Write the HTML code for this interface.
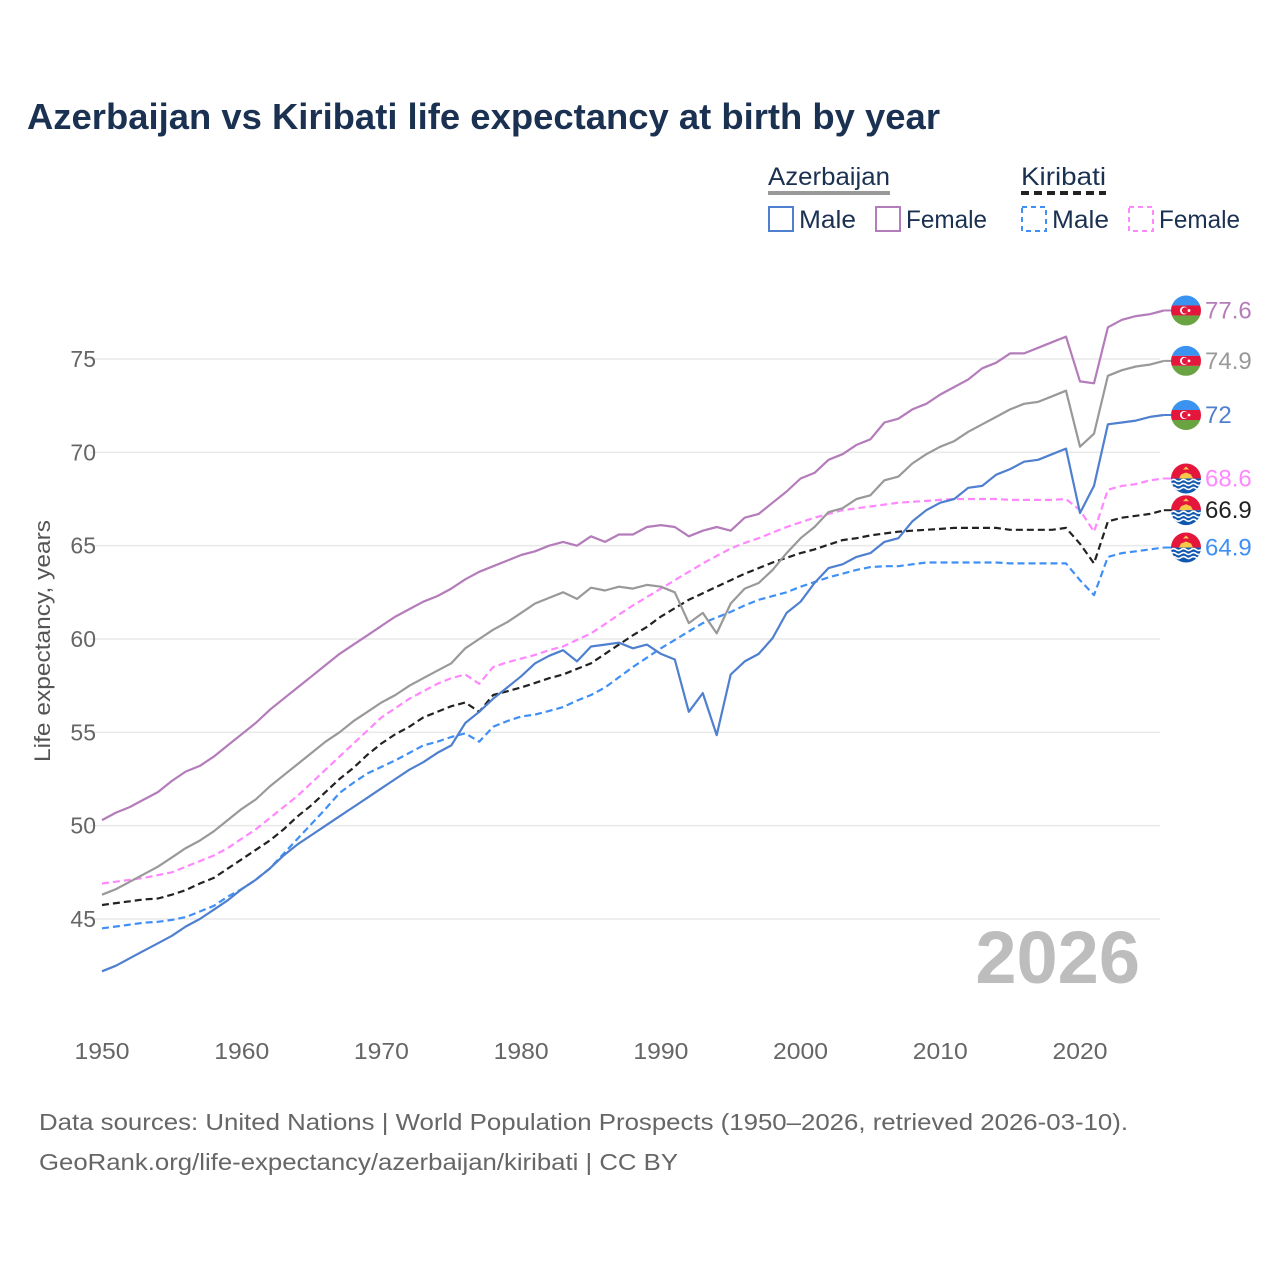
<!DOCTYPE html>
<html><head><meta charset="utf-8"><style>
html,body{margin:0;padding:0;background:#fff;}
svg{display:block;font-family:"Liberation Sans",sans-serif;}
</style></head><body>
<svg id="chart" width="1280" height="1280" viewBox="0 0 1280 1280" xmlns="http://www.w3.org/2000/svg">
<rect width="1280" height="1280" fill="#fff"/>
<text x="27" y="129" font-size="36" font-weight="bold" fill="#1b3152" textLength="913" lengthAdjust="spacingAndGlyphs">Azerbaijan vs Kiribati life expectancy at birth by year</text>
<g font-size="25" fill="#1b3152">
  <text x="768" y="185" textLength="122" lengthAdjust="spacingAndGlyphs">Azerbaijan</text>
  <line x1="768" y1="193" x2="890" y2="193" stroke="#999" stroke-width="4"/>
  <text x="1021" y="185" textLength="85" lengthAdjust="spacingAndGlyphs">Kiribati</text>
  <line x1="1021" y1="193" x2="1106" y2="193" stroke="#222" stroke-width="4" stroke-dasharray="8,5"/>
  <g><rect x="769" y="207" width="24" height="24" fill="none" stroke="#4f7fcf" stroke-width="2"/><text x="799" y="228" textLength="57" lengthAdjust="spacingAndGlyphs">Male</text></g>
  <g><rect x="876" y="207" width="24" height="24" fill="none" stroke="#b47cba" stroke-width="2"/><text x="906" y="228" textLength="81" lengthAdjust="spacingAndGlyphs">Female</text></g>
  <g><rect x="1022" y="207" width="24" height="24" fill="none" stroke="#3f8ff5" stroke-width="2" stroke-dasharray="5,4"/><text x="1052" y="228" textLength="57" lengthAdjust="spacingAndGlyphs">Male</text></g>
  <g><rect x="1129" y="207" width="24" height="24" fill="none" stroke="#ff88ff" stroke-width="2" stroke-dasharray="5,4"/><text x="1159" y="228" textLength="81" lengthAdjust="spacingAndGlyphs">Female</text></g>
</g>
<g id="grid"></g>
<g id="xticks" font-size="23" fill="#666" text-anchor="middle"></g>
<g id="yticks" font-size="23" fill="#666" text-anchor="end"></g>
<text transform="translate(50,641) rotate(-90)" font-size="22" fill="#555" text-anchor="middle" textLength="242" lengthAdjust="spacingAndGlyphs">Life expectancy, years</text>
<text x="1140" y="983" font-size="74" font-weight="bold" fill="#bdbdbd" text-anchor="end">2026</text>
<g id="series"></g>
<g id="endlabels" font-size="24"></g>
<text x="39" y="1130" font-size="23" fill="#666" textLength="1089" lengthAdjust="spacingAndGlyphs">Data sources: United Nations | World Population Prospects (1950–2026, retrieved 2026-03-10).</text>
<text x="39" y="1170" font-size="23" fill="#666" textLength="639" lengthAdjust="spacingAndGlyphs">GeoRank.org/life-expectancy/azerbaijan/kiribati | CC BY</text>
</svg>
<script>
const years = []; for (let y = 1950; y <= 2026; y++) years.push(y);
const xTicks = [1950,1960,1970,1980,1990,2000,2010,2020];
const yTicks = [45,50,55,60,65,70,75];
const azFemale = [50.3,50.7,51.0,51.4,51.8,52.4,52.9,53.2,53.7,54.3,
54.9,55.5,56.2,56.8,57.4,58.0,58.6,59.2,59.7,60.2,
60.7,61.2,61.6,62.0,62.3,62.7,63.2,63.6,63.9,64.2,
64.5,64.7,65.0,65.2,65.0,65.5,65.2,65.6,65.6,66.0,
66.1,66.0,65.5,65.8,66.0,65.8,66.5,66.7,67.3,67.9,
68.6,68.9,69.6,69.9,70.4,70.7,71.6,71.8,72.3,72.6,
73.1,73.5,73.9,74.5,74.8,75.3,75.3,75.6,75.9,76.2,
73.8,73.7,76.7,77.1,77.3,77.4,77.6];
const azTotal = [46.3,46.6,47.0,47.4,47.8,48.3,48.8,49.2,49.7,50.3,
50.9,51.4,52.1,52.7,53.3,53.9,54.5,55.0,55.6,56.1,
56.6,57.0,57.5,57.9,58.3,58.7,59.5,60.0,60.5,60.9,
61.4,61.9,62.2,62.5,62.15,62.75,62.6,62.8,62.7,62.9,
62.8,62.5,60.85,61.4,60.3,61.9,62.7,63.0,63.7,64.6,
65.4,66.0,66.8,67.0,67.5,67.7,68.5,68.7,69.4,69.9,
70.3,70.6,71.1,71.5,71.9,72.3,72.6,72.7,73.0,73.3,
70.3,71.0,74.1,74.4,74.6,74.7,74.9];
const azMale = [42.2,42.5,42.9,43.3,43.7,44.1,44.6,45.0,45.5,46.0,
46.6,47.1,47.7,48.4,49.0,49.5,50.0,50.5,51.0,51.5,
52.0,52.5,53.0,53.4,53.9,54.3,55.5,56.1,56.8,57.4,
58.0,58.7,59.1,59.4,58.8,59.6,59.7,59.8,59.5,59.7,
59.2,58.9,56.1,57.1,54.85,58.1,58.8,59.2,60.05,61.4,
62.0,63.0,63.8,64.0,64.4,64.6,65.2,65.4,66.3,66.9,
67.3,67.5,68.1,68.2,68.8,69.1,69.5,69.6,69.9,70.2,
66.75,68.2,71.5,71.6,71.7,71.9,72.0];
const kiTotal = [45.75,45.85,45.95,46.05,46.1,46.3,46.55,46.9,47.2,47.7,
48.2,48.7,49.2,49.8,50.5,51.1,51.8,52.5,53.1,53.8,
54.4,54.9,55.3,55.8,56.1,56.4,56.6,56.1,57.0,57.2,
57.4,57.65,57.9,58.1,58.4,58.7,59.2,59.7,60.2,60.65,
61.2,61.65,62.1,62.45,62.8,63.15,63.5,63.8,64.1,64.35,
64.6,64.8,65.05,65.3,65.4,65.55,65.65,65.75,65.8,65.85,
65.9,65.95,65.95,65.95,65.95,65.85,65.85,65.85,65.85,65.95,
65.1,64.05,66.3,66.5,66.6,66.7,66.9];
const kiFemale = [46.9,47.0,47.1,47.2,47.35,47.5,47.8,48.1,48.4,48.8,
49.3,49.8,50.4,51.0,51.6,52.3,53.0,53.7,54.4,55.1,
55.8,56.3,56.8,57.2,57.6,57.9,58.1,57.6,58.5,58.75,
58.95,59.15,59.4,59.6,59.95,60.3,60.8,61.3,61.8,62.25,
62.7,63.15,63.6,64.05,64.45,64.85,65.15,65.4,65.7,66.0,
66.25,66.5,66.7,66.9,67.0,67.1,67.2,67.3,67.35,67.4,
67.45,67.5,67.5,67.5,67.5,67.45,67.45,67.45,67.45,67.5,
66.9,65.75,68.0,68.2,68.3,68.5,68.6];
const kiMale = [44.5,44.6,44.7,44.8,44.85,44.95,45.1,45.4,45.7,46.2,
46.6,47.1,47.7,48.5,49.3,50.1,50.9,51.75,52.3,52.8,
53.15,53.5,53.9,54.3,54.5,54.75,54.95,54.5,55.3,55.6,
55.85,55.95,56.15,56.35,56.7,57.0,57.4,57.95,58.5,59.0,
59.5,59.95,60.4,60.85,61.15,61.45,61.8,62.1,62.3,62.5,
62.8,63.05,63.3,63.5,63.7,63.85,63.9,63.9,64.0,64.1,
64.1,64.1,64.1,64.1,64.1,64.05,64.05,64.05,64.05,64.05,
63.15,62.35,64.4,64.6,64.7,64.8,64.9];

const NS = "http://www.w3.org/2000/svg";
function xScale(yr){ return 102 + (yr - 1950) * (978 / 70); }
function yScale(v){ return 359 + (75 - v) * (560 / 30); }
function mk(tag, attrs, parent){ const e = document.createElementNS(NS, tag); for (const k in attrs) e.setAttribute(k, attrs[k]); parent.appendChild(e); return e; }

const grid = document.getElementById('grid');
const yt = document.getElementById('yticks');
yTicks.forEach(v => {
  const l = mk('line', {x1: 90, x2: 1160, y1: yScale(v), y2: yScale(v), stroke: '#e9e9e9', 'stroke-width': 1.5}, grid);
  
  
  const t = mk('text', {x: 96, y: yScale(v) + 8}, yt);
  t.textContent = v;
  
  
});
const xt = document.getElementById('xticks');
xTicks.forEach(v => {
  const t = mk('text', {x: xScale(v), y: 1059, textLength: 55, lengthAdjust: 'spacingAndGlyphs'}, xt);
  t.textContent = v;
  
  
});

const seriesDefs = [
  {name: 'kiribati-male', data: kiMale, color: '#3f8ff5', dash: '7,4', flag: 'ki', lab: '#3f8ff5'},
  {name: 'kiribati-total', data: kiTotal, color: '#222', dash: '7,4', flag: 'ki', lab: '#222'},
  {name: 'kiribati-female', data: kiFemale, color: '#ff88ff', dash: '7,4', flag: 'ki', lab: '#ff88ff'},
  {name: 'azerbaijan-male', data: azMale, color: '#4f7fcf', dash: null, flag: 'az', lab: '#4f7fcf'},
  {name: 'azerbaijan-total', data: azTotal, color: '#999', dash: null, flag: 'az', lab: '#999'},
  {name: 'azerbaijan-female', data: azFemale, color: '#b47cba', dash: null, flag: 'az', lab: '#b47cba'}
];
const sg = document.getElementById('series');
const el = document.getElementById('endlabels');
seriesDefs.forEach(s => {
  const d = s.data.map((v, i) => (i ? 'L' : 'M') + xScale(years[i]).toFixed(1) + ',' + yScale(v).toFixed(1)).join(' ');
  const attrs = {d: d, fill: 'none', stroke: s.color, 'stroke-width': 2.2, 'stroke-linejoin': 'round'};
  if (s.dash) attrs['stroke-dasharray'] = s.dash;
  const p = mk('path', attrs, sg);
  
  
  const last = s.data[s.data.length - 1];
  const ly = yScale(last);
  const lx = xScale(years[years.length - 1]);
  mk('line', {x1: lx, x2: 1172, y1: ly, y2: ly, stroke: s.color, 'stroke-width': 2}, sg);
  const g = mk('g', {transform: 'translate(1186,' + ly + ')'}, el);
  
  
  const cid = 'clip-' + s.name;
  const cp = mk('clipPath', {id: cid}, g);
  mk('circle', {r: 15}, cp);
  const fg = mk('g', {'clip-path': 'url(#' + cid + ')'}, g);
  if (s.flag === 'az') {
    mk('rect', {x: -15, y: -15, width: 30, height: 10, fill: '#3a93f0'}, fg);
    mk('rect', {x: -15, y: -5, width: 30, height: 10, fill: '#e4163c'}, fg);
    mk('rect', {x: -15, y: 5, width: 30, height: 10, fill: '#6aa342'}, fg);
    mk('circle', {cx: -2, cy: 0, r: 4, fill: '#fff'}, fg);
    mk('circle', {cx: -1, cy: 0, r: 3.2, fill: '#e4163c'}, fg);
    mk('circle', {cx: 3, cy: 0, r: 1.4, fill: '#fff'}, fg);
  } else {
    mk('rect', {x: -15, y: -15, width: 30, height: 15, fill: '#e4163c'}, fg);
    mk('path', {d: 'M-7,0 L-5,-4 L0,-6 L5,-4 L7,0 Z', fill: '#f5c84a'}, fg);
    mk('path', {d: 'M-3,-9 L0,-12 L3,-9 Z', fill: '#f5c84a'}, fg);
    mk('rect', {x: -15, y: 0, width: 30, height: 15, fill: '#0f57b0'}, fg);
    [2, 6, 10].forEach(yy => mk('path', {d: 'M-15,' + yy + ' q2.5,-2 5,0 t5,0 t5,0 t5,0 t5,0 t5,0', stroke: '#fff', 'stroke-width': 1.6, fill: 'none'}, fg));
  }
  const t = mk('text', {x: 1205, y: ly + 8, fill: s.lab}, el);
  t.textContent = last;
  
  
});
</script>
</body></html>
